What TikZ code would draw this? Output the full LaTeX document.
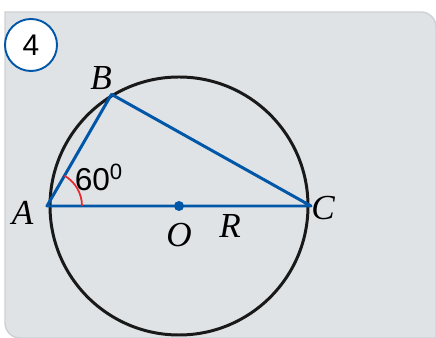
\documentclass[tikz,border=0pt]{standalone}
\usepackage{fontspec}
\setmainfont{Liberation Serif}
\newfontfamily\sansfont{Liberation Sans}
\usetikzlibrary{positioning}
\definecolor{azul}{RGB}{0,87,168}
\definecolor{fundo}{RGB}{224,227,230}
\definecolor{borda}{RGB}{206,209,212}
\definecolor{vermelho}{RGB}{232,40,45}
\tikzset{
  rotulo/.style={inner sep=0pt, font=\itshape\fontsize{20}{20}\selectfont},
  lado/.style={azul, line width=1.7pt, line cap=round, line join=round}
}
\begin{document}
\begin{tikzpicture}
\useasboundingbox (0,0) rectangle (8.72,6.76);

% Fundo
\draw[fill=fundo, draw=borda, line width=0.8pt] (8.72,0) -- (0.4,0)
  arc[start angle=270, end angle=180, radius=0.3] -- (0.1,6.52) -- (8.42,6.52)
  arc[start angle=90, end angle=0, radius=0.3] -- cycle;

% Numero
\node[circle, draw=azul, fill=white, line width=1.1pt, minimum size=1.04cm, inner sep=0pt,
  font=\sansfont\fontsize{17}{17}\selectfont] (num) at (0.62,5.86) {4};

% Pontos
\coordinate (O) at (3.58,2.64);
\coordinate (A) at (0.94,2.64);
\coordinate (C) at (6.22,2.64);
\coordinate (B) at (2.23,4.874);

% Circunferencia
\draw[black!90, line width=1.7pt] (O) circle (2.58);

% Lados
\draw[lado] (A) -- (B) -- (C) -- cycle;
\draw[vermelho, line width=1pt] ([xshift=0.7cm]A) arc[start angle=0, end angle=60, radius=0.7];
\fill[azul] (O) circle (0.1);

% Rotulos
\node[rotulo] (lA) at (0.45,2.5) {A};
\node[rotulo] (lB) at (2.02,5.2) {B};
\node[rotulo] (lC) at (6.46,2.6) {C};
\node[rotulo] (lO) at (3.58,2.06) {O};
\node[rotulo] (lR) at (4.6,2.24) {R};
\node[inner sep=0pt, font=\sansfont\fontsize{18}{18}\selectfont] (ang) at (1.98,3.22) {60\textsuperscript{0}};
\end{tikzpicture}
\end{document}
